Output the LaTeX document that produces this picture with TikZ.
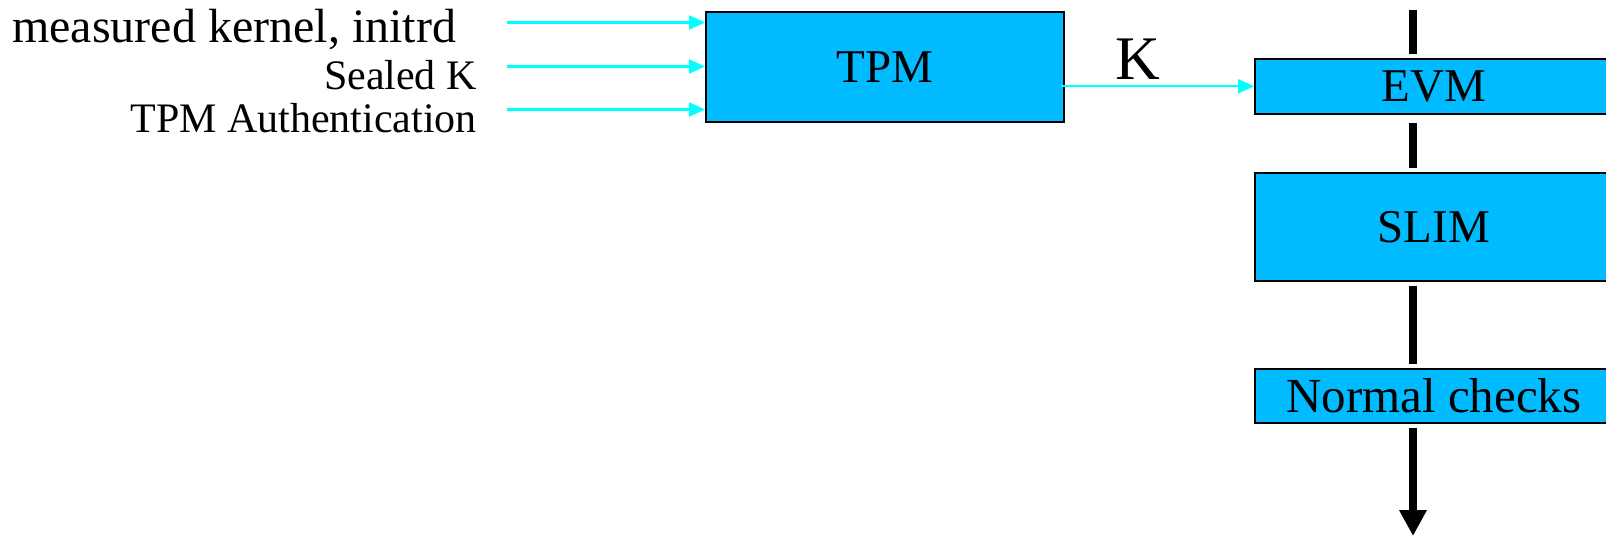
\documentclass[tikz,border=0pt]{standalone}
\usepackage{fontspec}
\setmainfont{Liberation Serif}
\usetikzlibrary{arrows.meta}
\definecolor{boxblue}{RGB}{0,187,255}
\definecolor{feedcyan}{RGB}{0,255,255}
\begin{document}
\begin{tikzpicture}[%
        x=1pt, y=-1pt,%
        unit box/.style={draw=black, line width=1.6pt, fill=boxblue,%
            anchor=north west, inner sep=0pt, minimum width=358pt,%
            font=\fontsize{47pt}{50pt}\selectfont},%
        feed arrow/.style={draw=feedcyan, line width=2.2pt,%
            -{Triangle[length=16pt,width=14pt]}},%
        flow line/.style={draw=black, line width=8pt}%
    ]
        \useasboundingbox (0,0) rectangle (1606,536);%
        \clip (0,0) rectangle (1606,536);%

        %
        % Blocs
        %
        \node[unit box, minimum height=110pt] (tpm) at (705,11) {TPM};%
        \node[unit box, minimum height=55pt] (evm) at (1254,58) {EVM};%
        \node[unit box, minimum height=108pt] (slim) at (1254,172) {SLIM};%
        \node[unit box, minimum height=54pt, font=\fontsize{49pt}{52pt}\selectfont]%
            (normal) at (1254,368) {Normal checks};%

        %
        % Entrees du TPM
        %
        \node[anchor=west, inner sep=0pt, font=\fontsize{48pt}{52pt}\selectfont]%
            (kernel label) at (12,30) {measured kernel, initrd};%
        \foreach \n/\y/\t in {sealed/75/Sealed K,auth/118/TPM Authentication} {%
            \node[anchor=east, inner sep=0pt, font=\fontsize{42pt}{46pt}\selectfont]%
                (\n\space label) at (477,\y) {\t};%
        }%
        \foreach \i/\y in {1/22.5,2/66.5,3/109.5} {%
            \coordinate (in\i) at (507,\y);%
            \draw[feed arrow] (in\i) -- (in\i -| tpm.west);%
        }%

        %
        % Cle K
        %
        \draw[feed arrow] ([xshift=-4pt]tpm.east |- evm.west) -- (evm.west)%
            node[pos=0.4, above=2pt, font=\fontsize{62pt}{66pt}\selectfont] (k label) {K};%

        %
        % Chaine de controle
        %
        \coordinate (spine top) at (1413,10);%
        \coordinate (spine end) at (1413,536);%
        \draw[flow line] (spine top) -- ([yshift=4pt]evm.north -| spine top);%
        \draw[flow line] ([yshift=-8pt]evm.south -| spine top) -- ([yshift=4pt]slim.north -| spine top);%
        \draw[flow line] ([yshift=-4pt]slim.south -| spine top) -- ([yshift=4pt]normal.north -| spine top);%
        \draw[flow line, -{Triangle[length=26pt,width=26pt]}]%
            ([yshift=-4pt]normal.south -| spine top) -- (spine end);%
    \end{tikzpicture}
\end{document}
